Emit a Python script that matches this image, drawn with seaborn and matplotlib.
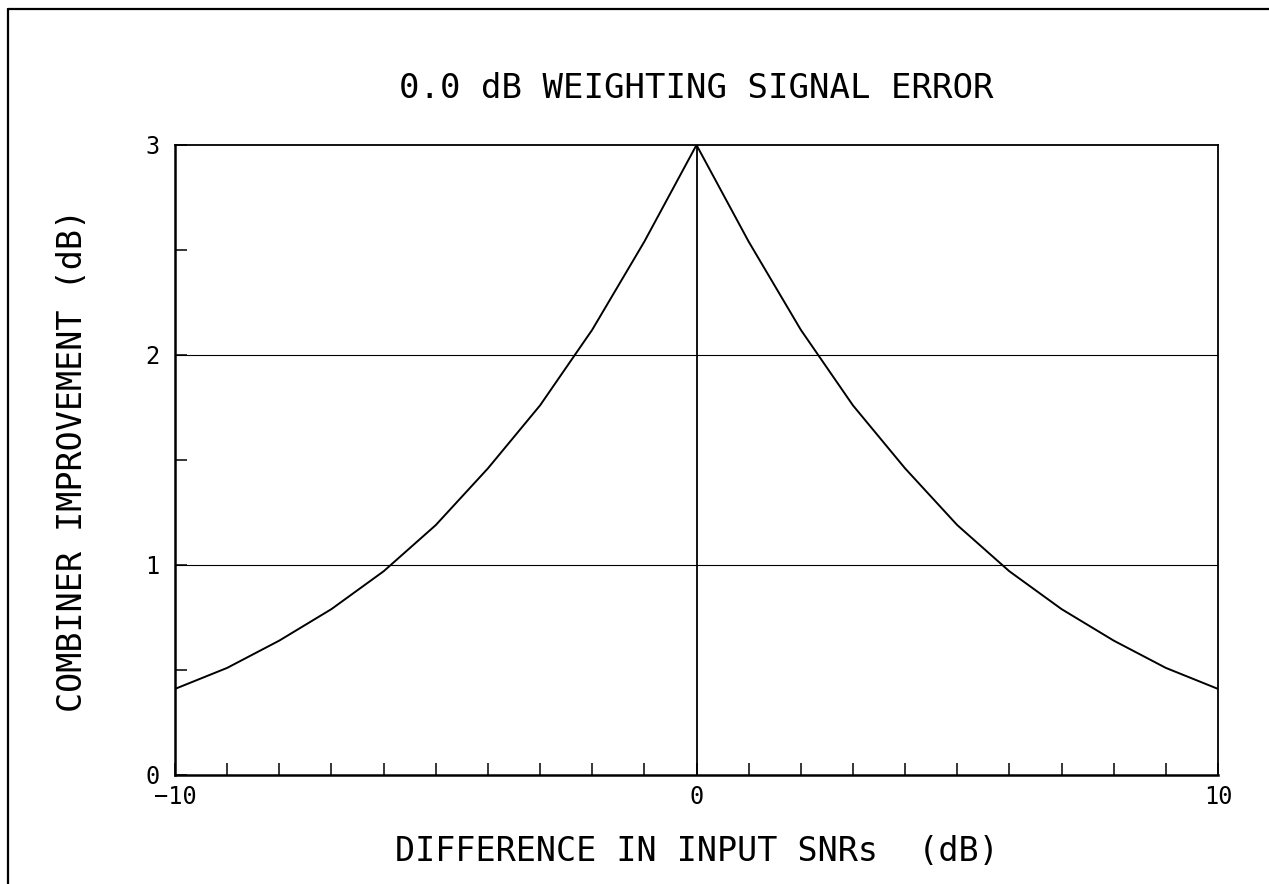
import numpy as np
import pandas as pd
import matplotlib
matplotlib.use("Agg")
import matplotlib.pyplot as plt
from matplotlib.lines import Line2D
import seaborn as sns

# ---- data ----
snr_diff_db = [-10, -9, -8, -7, -6, -5, -4, -3, -2, -1, 0,
               1, 2, 3, 4, 5, 6, 7, 8, 9, 10]
improvement_db = [0.41, 0.51, 0.64, 0.79, 0.97, 1.19, 1.46, 1.76, 2.12, 2.54, 3.00,
                  2.54, 2.12, 1.76, 1.46, 1.19, 0.97, 0.79, 0.64, 0.51, 0.41]
x_tick_values = [-10, 0, 10]
x_tick_labels = ["\u221210", "0", "10"]
y_tick_labels = ["0", "1", "2", "3"]
title_text = "0.0 dB WEIGHTING SIGNAL ERROR"
x_label_text = "DIFFERENCE IN INPUT SNRs  (dB)"
y_label_text = "COMBINER IMPROVEMENT (dB)"

df = pd.DataFrame({"diff": snr_diff_db, "imp": improvement_db})

sns.set_style("white")
plt.rcParams["font.family"] = ["DejaVu Sans Mono", "DejaVu Sans"]

W, H = 1269, 884
fig = plt.figure(figsize=(W / 100, H / 100), dpi=100)
ax = fig.add_axes([175 / W, 1 - 775 / H, (1218 - 175) / W, (775 - 145) / H])

sns.lineplot(data=df, x="diff", y="imp", ax=ax, color="black", linewidth=1.4)

ax.set_xlim(-10, 10)
ax.set_ylim(0, 3)

# grid lines at 1, 2 and vertical at 0
for yv in [1, 2]:
    ax.axhline(yv, color="black", linewidth=0.8, zorder=1)
ax.axvline(0, color="black", linewidth=1.3, zorder=1)

# ticks
xt = np.arange(-10, 11, 1)
ax.set_xticks(xt)
ax.set_xticklabels([x_tick_labels[x_tick_values.index(v)] if v in x_tick_values else "" for v in xt])
yt = np.arange(0, 3.01, 0.5)
ax.set_yticks(yt)
ax.set_yticklabels([y_tick_labels[int(v)] if float(v).is_integer() else "" for v in yt])
ax.tick_params(axis="both", direction="in", length=8.5, width=1.1, color="black",
               labelsize=17, labelcolor="black")
ax.tick_params(axis="x", pad=7)
ax.tick_params(axis="y", pad=11)
ax.tick_params(top=False, right=False, bottom=True, left=True)

for side in ["left", "bottom"]:
    ax.spines[side].set_linewidth(1.8)
    ax.spines[side].set_color("black")
for side in ["top", "right"]:
    ax.spines[side].set_linewidth(1.3)
    ax.spines[side].set_color("black")

ax.set_title(title_text, fontsize=24.5, pad=34, color="black")
ax.set_xlabel(x_label_text, fontsize=24, color="black")
ax.set_ylabel(y_label_text, fontsize=24, color="black")
ax.xaxis.set_label_coords(0.5, -(835 - 775) / 630)
ax.yaxis.set_label_coords(-(175 - 89) / 1043, 0.5)

# page frame (left and top edges visible)
fig.add_artist(Line2D([8 / W, 8 / W], [0, 1 - 9 / H], transform=fig.transFigure,
                      color="black", linewidth=1.6))
fig.add_artist(Line2D([8 / W, 1], [1 - 9 / H, 1 - 9 / H], transform=fig.transFigure,
                      color="black", linewidth=1.6))

fig.savefig("out.png", dpi=100, facecolor="white")
